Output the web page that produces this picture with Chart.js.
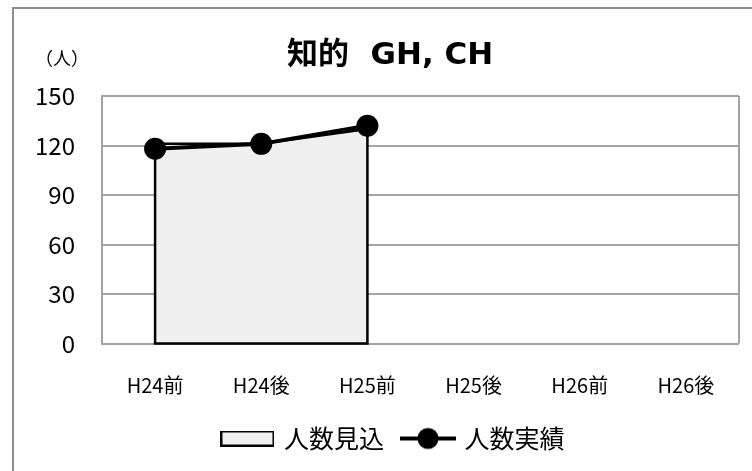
<!DOCTYPE html>
<html>
<head>
<meta charset="utf-8">
<script src="https://cdn.jsdelivr.net/npm/chart.js@4/dist/chart.umd.min.js"></script>
<style>
  html, body { margin:0; padding:0; background:#fff; overflow:hidden; }
  #frame { position:absolute; left:12px; top:7px; width:800px; height:500px; border:2.5px solid #8e8e8e; }
  #wrap  { position:absolute; left:13px; top:0; width:752px; height:471px; }
</style>
</head>
<body>
<div id="frame"></div>
<div id="wrap"><canvas id="chart"></canvas></div>
<script>
const categories = ['H24前', 'H24後', 'H25前', 'H25後', 'H26前', 'H26後'];
const expected   = [121, 121, 130, null, null, null];   // 人数見込
const actual     = [118, 121, 132, null, null, null];   // 人数実績
const yMax  = 150;
const yStep = 30;

const FONT = "'Noto Sans CJK JP', 'Noto Sans', sans-serif";
const GRID = '#a3a3a3';

Chart.defaults.font.family = FONT;
Chart.defaults.color = '#000';

// legend swatches
function rectSwatch() {
  const c = document.createElement('canvas');
  c.width = 54; c.height = 16;
  const g = c.getContext('2d');
  g.fillStyle = '#f0f0f0';
  g.fillRect(1, 1, 52, 14);
  g.strokeStyle = '#000'; g.lineWidth = 2;
  g.strokeRect(1, 1, 52, 14);
  return c;
}
function lineSwatch() {
  const c = document.createElement('canvas');
  c.width = 56; c.height = 24;
  const g = c.getContext('2d');
  g.strokeStyle = '#000'; g.lineWidth = 4;
  g.beginPath(); g.moveTo(0, 12); g.lineTo(56, 12); g.stroke();
  g.fillStyle = '#000';
  g.beginPath(); g.arc(28, 12, 10.5, 0, Math.PI * 2); g.fill();
  return c;
}
const swatches = [rectSwatch(), lineSwatch()];

// title, unit label, plot frame and the closed outline of the area
const decor = {
  id: 'decor',
  beforeDatasetsDraw(chart) {
    const { ctx, chartArea: a } = chart;
    ctx.save();
    ctx.strokeStyle = GRID; ctx.lineWidth = 2;
    ctx.beginPath(); ctx.moveTo(a.right, a.top); ctx.lineTo(a.right, a.bottom); ctx.stroke();
    ctx.restore();
  },
  afterDatasetDraw(chart, args) {
    if (args.index !== 0) return;
    const pts = args.meta.data.filter(p => !p.skip);
    if (!pts.length) return;
    const y0 = chart.scales.y.getPixelForValue(0);
    const first = pts[0], last = pts[pts.length - 1];
    const ctx = chart.ctx;
    ctx.save();
    ctx.strokeStyle = '#000'; ctx.lineWidth = 2.5;
    ctx.beginPath();
    ctx.moveTo(first.x, first.y); ctx.lineTo(first.x, y0);
    ctx.lineTo(last.x, y0); ctx.lineTo(last.x, last.y);
    ctx.stroke();
    ctx.restore();
  },
  afterDraw(chart) {
    const ctx = chart.ctx;
    ctx.save();
    ctx.fillStyle = '#000';
    ctx.textAlign = 'left'; ctx.textBaseline = 'alphabetic';
    ctx.font = "bold 31px 'DejaVu Sans', 'Noto Sans CJK JP', sans-serif";
    ctx.fillText('知的  GH, CH', 274, 64);
    ctx.textAlign = 'center'; ctx.textBaseline = 'middle';
    ctx.font = '18px ' + FONT;
    ctx.fillText('（人）', 49, 58);
    ctx.restore();
  }
};

new Chart(document.getElementById('chart'), {
  type: 'line',
  data: {
    labels: categories,
    datasets: [
      { label: '人数見込', data: expected, order: 1,
        borderColor: '#000', borderWidth: 2.5, backgroundColor: '#f0f0f0',
        fill: 'origin', pointRadius: 0, tension: 0 },
      { label: '人数実績', data: actual, order: 0,
        borderColor: '#000', borderWidth: 4, backgroundColor: '#000',
        pointRadius: 11, pointBackgroundColor: '#000', pointBorderWidth: 0,
        fill: false, tension: 0 }
    ]
  },
  options: {
    responsive: true, maintainAspectRatio: false,
    animation: false, events: [],
    layout: { padding: { left: 10, right: 0, top: 96, bottom: 10 } },
    plugins: {
      title: { display: false },
      tooltip: { enabled: false },
      legend: {
        position: 'bottom',
        labels: {
          color: '#000', font: { size: 25 },
          usePointStyle: true, pointStyleWidth: 48, padding: 20,
          sort: (a, b) => a.datasetIndex - b.datasetIndex,
          generateLabels(chart) {
            const items = Chart.defaults.plugins.legend.labels.generateLabels(chart);
            items.forEach(it => { it.pointStyle = swatches[it.datasetIndex]; });
            return items;
          }
        }
      }
    },
    scales: {
      x: {
        offset: true,
        grid: { display: false, drawTicks: false },
        border: { display: false },
        ticks: { color: '#000', font: { size: 20 }, padding: 30, maxRotation: 0 },
        afterFit(s) { s.height = 62.5; }
      },
      y: {
        min: 0, max: yMax,
        ticks: { stepSize: yStep, color: '#000', font: { size: 24 }, padding: 27 },
        grid: { color: GRID, lineWidth: 2, drawTicks: false },
        border: { display: true, color: GRID, width: 2 },
        afterFit(s) { s.width = 79; }
      },
      // empty right-hand axis, only reserves the margin right of the plot
      y2: {
        position: 'right', min: 0, max: yMax,
        ticks: { display: false },
        grid: { display: false, drawTicks: false },
        border: { display: false },
        afterFit(s) { s.width = 26; }
      }
    }
  },
  plugins: [decor]
});
</script>
</body>
</html>
